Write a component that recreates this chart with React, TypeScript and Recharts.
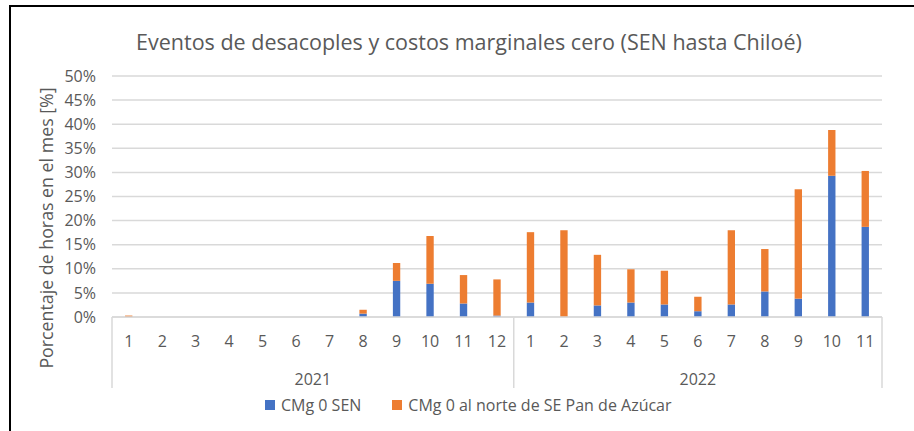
import React from 'react';
import { BarChart, Bar, XAxis, YAxis, CartesianGrid } from 'recharts';

// ---- Data ----
const yearLabels = ['2021', '2022'];
const monthsPerYear = [12, 11];
const monthLabels = ['1', '2', '3', '4', '5', '6', '7', '8', '9', '10', '11', '12', '1', '2', '3', '4', '5', '6', '7', '8', '9', '10', '11'];
const cmgSEN = [0, 0, 0, 0, 0, 0, 0, 0.7, 7.5, 6.9, 2.8, 0.3, 3.0, 0, 2.4, 3.0, 2.6, 1.2, 2.6, 5.3, 3.8, 29.3, 18.7];
const cmgNorte = [0.3, 0, 0, 0, 0, 0, 0, 0.8, 3.7, 9.9, 5.9, 7.5, 14.6, 18.0, 10.5, 6.9, 7.0, 3.0, 15.4, 8.8, 22.7, 9.5, 11.6];
const yTicks = [0, 5, 10, 15, 20, 25, 30, 35, 40, 45, 50];
const seriesNames = ['CMg 0 SEN', 'CMg 0 al norte de SE Pan de Azúcar'];
const titleText = 'Eventos de desacoples y costos marginales cero (SEN hasta Chiloé)';
const yAxisTitle = 'Porcentaje de horas en el mes [%]';

const data = monthLabels.map((m, i) => ({
  key: String(i),
  month: m,
  sen: cmgSEN[i],
  norte: cmgNorte[i],
}));

// ---- Layout ----
const W = 914;
const H = 431;
const X_AXIS_H = 70;
const margin = { top: 76, right: 32, bottom: 114 - X_AXIS_H, left: 12 };
const Y_AXIS_W = 100;
const plotLeft = margin.left + Y_AXIS_W;
const plotRight = W - margin.right;
const plotBottom = H - margin.bottom - X_AXIS_H;
const plotTop = margin.top;
const bandW = (plotRight - plotLeft) / data.length;

const BLUE = '#4472C4';
const ORANGE = '#ED7D31';
const TEXT = '#595959';
const GRID = '#D9D9D9';
const FONT = '"Open Sans", sans-serif';

const groupStarts: number[] = [];
{
  let s = 0;
  monthsPerYear.forEach((n) => {
    groupStarts.push(s);
    s += n;
  });
}

const MonthTick = (props: any) => {
  const { x, payload } = props;
  const idx: number = payload && typeof payload.index === 'number' ? payload.index : props.index;
  const label = monthLabels[idx];
  const g = groupStarts.indexOf(idx);
  const isLast = idx === data.length - 1;
  return (
    <g>
      <text x={x} y={plotBottom + 24} textAnchor="middle" dominantBaseline="central" fill={TEXT} fontSize={16} fontFamily={FONT}>
        {label}
      </text>
      {g >= 0 && (
        <>
          <line x1={x - bandW / 2} x2={x - bandW / 2} y1={plotBottom} y2={plotBottom + 71} stroke={GRID} strokeWidth={1.5} />
          <text
            x={x - bandW / 2 + (monthsPerYear[g] * bandW) / 2}
            y={plotBottom + 62}
            textAnchor="middle"
            dominantBaseline="central"
            fill={TEXT}
            fontSize={16}
            fontFamily={FONT}
          >
            {yearLabels[g]}
          </text>
        </>
      )}
      {isLast && (
        <line x1={x + bandW / 2} x2={x + bandW / 2} y1={plotBottom} y2={plotBottom + 71} stroke={GRID} strokeWidth={1.5} />
      )}
    </g>
  );
};

const YTitle = () => {
  const cx = 46;
  const cy = 228;
  return (
    <text
      x={cx}
      y={cy}
      transform={`rotate(-90 ${cx} ${cy})`}
      textAnchor="middle"
      dominantBaseline="central"
      fill={TEXT}
      fontSize={17.8}
      fontFamily={FONT}
    >
      {yAxisTitle}
    </text>
  );
};

export default function App() {
  return (
    <div style={{ position: 'absolute', left: 0, top: 0, width: W, height: H, background: '#fff', overflow: 'hidden' }}>
      <div
        style={{
          position: 'absolute',
          left: 9,
          top: 5,
          width: W - 9,
          height: H - 5,
          borderTop: '2px solid #000',
          borderLeft: '2px solid #000',
          boxSizing: 'border-box',
        }}
      />
      <div
        style={{
          position: 'absolute',
          left: 20,
          width: 898,
          top: 27,
          textAlign: 'center',
          fontFamily: FONT,
          fontSize: 21.5,
          color: TEXT,
          lineHeight: '30px',
          zIndex: 2,
          whiteSpace: 'nowrap',
        }}
      >
        {titleText}
      </div>
      <div style={{ position: 'absolute', left: 0, top: 0 }}>
        <BarChart width={W} height={H} data={data} margin={margin} barCategoryGap="61%">
          <CartesianGrid vertical={false} stroke={GRID} strokeWidth={1.5} />
          <XAxis
            dataKey="key"
            interval={0}
            tickLine={false}
            axisLine={{ stroke: GRID, strokeWidth: 1.5 }}
            tick={<MonthTick />}
            height={X_AXIS_H}
          />
          <YAxis
            width={Y_AXIS_W}
            domain={[0, 50]}
            ticks={yTicks}
            interval={0}
            tickFormatter={(v: number) => `${v}%`}
            axisLine={false}
            tickLine={false}
            tickSize={0}
            tickMargin={16}
            tick={{ fill: TEXT, fontSize: 16, fontFamily: FONT }}
            label={<YTitle />}
          />
          <Bar dataKey="sen" stackId="a" fill={BLUE} name={seriesNames[0]} isAnimationActive={false} />
          <Bar dataKey="norte" stackId="a" fill={ORANGE} name={seriesNames[1]} isAnimationActive={false} />
        </BarChart>
      </div>
      <div
        style={{
          position: 'absolute',
          left: 265,
          top: 394,
          display: 'flex',
          alignItems: 'center',
          fontFamily: FONT,
          fontSize: 16,
          color: TEXT,
          lineHeight: '22px',
          whiteSpace: 'nowrap',
        }}
      >
        {[BLUE, ORANGE].map((c, i) => (
          <div key={i} style={{ display: 'flex', alignItems: 'center', marginLeft: i ? 31 : 0 }}>
            <span style={{ display: 'inline-block', width: 10, height: 10, background: c, marginRight: 6 }} />
            <span>{seriesNames[i]}</span>
          </div>
        ))}
      </div>
    </div>
  );
}
